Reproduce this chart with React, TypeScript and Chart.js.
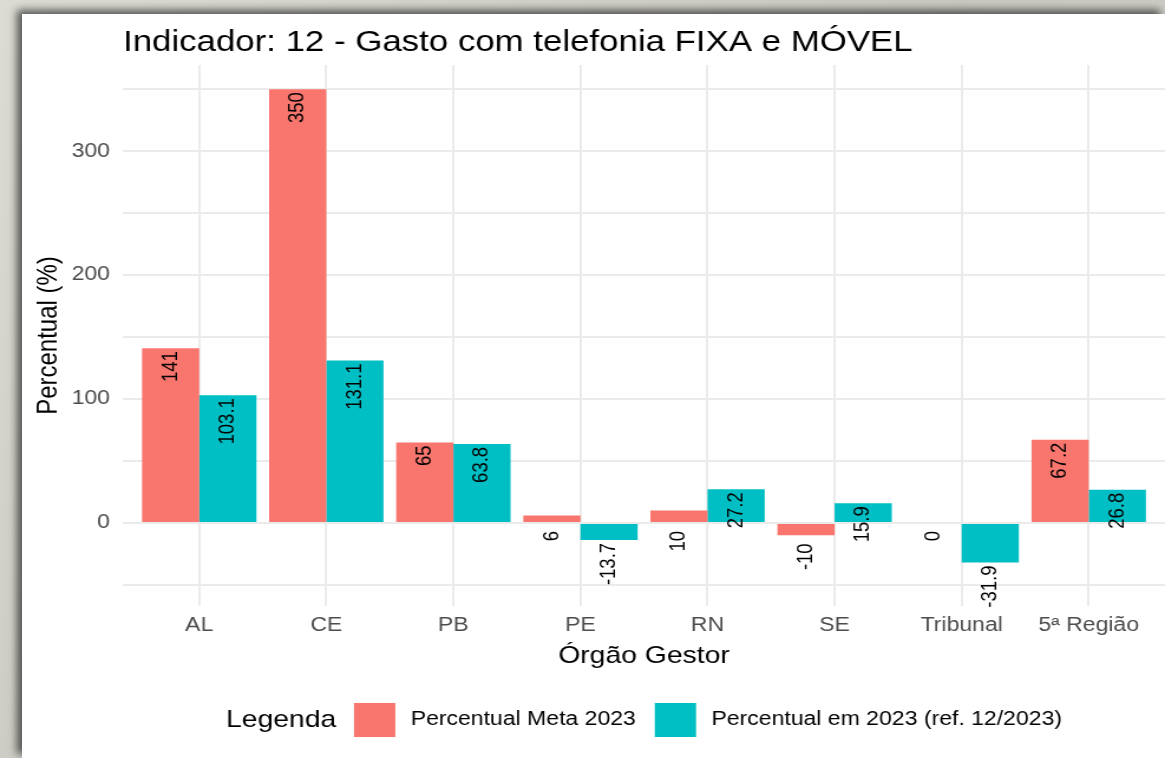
import React, { useEffect, useRef } from 'react';
import { Chart, registerables } from 'chart.js';

Chart.register(...registerables);

// ---- data ----
const categories = ['AL', 'CE', 'PB', 'PE', 'RN', 'SE', 'Tribunal', '5ª Região'];
const metaValues = [141, 350, 65, 6, 10, -10, 0, 67.2];
const realValues = [103.1, 131.1, 63.8, -13.7, 27.2, 15.9, -31.9, 26.8];
const seriesNames = ['Percentual Meta 2023', 'Percentual em 2023 (ref. 12/2023)'];
const seriesColors = ['#F8766D', '#00BFC4'];
const yGridTicks = [-50, 0, 50, 100, 150, 200, 250, 300, 350];
const yLabelTicks = [0, 100, 200, 300];
const titleText = 'Indicador: 12 - Gasto com telefonia FIXA e MÓVEL';
const xTitleText = 'Órgão Gestor';
const yTitleText = 'Percentual (%)';
const legendTitleText = 'Legenda';

// ---- layout ----
const W = 1165;
const H = 758;
const STRETCH = 1.18;
const NW = Math.round(W / STRETCH);
const FONT = '"Liberation Sans", Arial, Helvetica, sans-serif';

const decorPlugin = {
  id: 'decor',
  afterDatasetsDraw(chart: any) {
    const ctx = chart.ctx;
    const base = chart.scales.y.getPixelForValue(0);
    ctx.save();
    ctx.font = `18.5px ${FONT}`;
    ctx.fillStyle = '#000';
    ctx.textAlign = 'right';
    ctx.textBaseline = 'middle';
    chart.data.datasets.forEach((ds: any, di: number) => {
      const meta = chart.getDatasetMeta(di);
      meta.data.forEach((el: any, i: number) => {
        const v = ds.data[i].y;
        let top: number;
        if (di === 0 && Math.abs(v) < 20) top = Math.max(el.y, base) + 8;
        else top = el.y + 3;
        ctx.save();
        ctx.translate(el.x, top);
        ctx.rotate(-Math.PI / 2);
        ctx.fillText(String(v), 0, 0);
        ctx.restore();
      });
    });
    ctx.restore();
  },
  afterDraw(chart: any) {
    const ctx = chart.ctx;
    const area = chart.chartArea;
    const cx = (area.left + area.right) / 2;
    ctx.save();
    ctx.fillStyle = '#000';

    // title
    ctx.font = `29.5px ${FONT}`;
    ctx.textAlign = 'left';
    ctx.textBaseline = 'alphabetic';
    ctx.fillText(titleText, area.left, 50.5);

    // x axis title
    ctx.font = `24px ${FONT}`;
    ctx.textAlign = 'center';
    ctx.fillText(xTitleText, cx, 663);

    // y axis title
    ctx.save();
    ctx.translate(41.5, (area.top + area.bottom) / 2);
    ctx.rotate(-Math.PI / 2);
    ctx.textAlign = 'center';
    ctx.textBaseline = 'middle';
    ctx.fillText(yTitleText, 0, 0);
    ctx.restore();

    // legend
    const ly = 720;
    const box = 35;
    const boxH = 34;
    const g1 = 15;
    const g2 = 13;
    const g3 = 16;
    ctx.font = `24px ${FONT}`;
    const wT = ctx.measureText(legendTitleText).width;
    ctx.font = `19.5px ${FONT}`;
    const ws = chart.data.datasets.map((d: any) => ctx.measureText(d.label).width);
    let total = wT;
    ws.forEach((w: number) => {
      total += g1 + box + g2 + w;
    });
    total += (ws.length - 1) * (g3 - g1);
    let x = cx - total / 2;
    ctx.textAlign = 'left';
    ctx.textBaseline = 'middle';
    ctx.font = `24px ${FONT}`;
    ctx.fillText(legendTitleText, x, ly);
    x += wT + g1;
    chart.data.datasets.forEach((d: any, i: number) => {
      ctx.fillStyle = d.backgroundColor;
      ctx.fillRect(x, ly - boxH / 2, box, boxH);
      x += box + g2;
      ctx.fillStyle = '#000';
      ctx.font = `19.5px ${FONT}`;
      ctx.fillText(d.label, x, ly);
      x += ws[i] + g3;
    });
    ctx.restore();
  },
};

export default function App() {
  const ref = useRef<HTMLCanvasElement>(null);

  useEffect(() => {
    const canvas = ref.current;
    if (!canvas) return;
    Chart.defaults.font.family = FONT;
    const seriesValues = [metaValues, realValues];
    const chart = new Chart(canvas, {
      type: 'bar',
      data: {
        datasets: seriesValues.map((vals, si) => ({
          label: seriesNames[si],
          data: categories.map((_, i) => ({ x: i, y: vals[i] })),
          backgroundColor: seriesColors[si],
          borderWidth: 0,
          categoryPercentage: 0.9,
          barPercentage: 1,
        })),
      },
      options: {
        responsive: false,
        maintainAspectRatio: false,
        devicePixelRatio: 1,
        animation: false,
        layout: { padding: { top: 65, left: 0, right: 0, bottom: 0 } },
        plugins: {
          legend: { display: false },
          tooltip: { enabled: false },
          title: { display: false },
        },
        scales: {
          x: {
            type: 'linear',
            offset: false,
            min: -0.6,
            max: categories.length - 0.4,
            afterBuildTicks: (s: any) => {
              s.ticks = categories.map((_, i) => ({ value: i }));
            },
            afterFit: (s: any) => {
              s.height = 152;
              s.paddingLeft = 0;
              s.paddingRight = 0;
            },
            ticks: {
              autoSkip: false,
              maxRotation: 0,
              padding: 8,
              color: '#4D4D4D',
              font: { size: 19.5 },
              callback: (v: any) => categories[Math.round(Number(v))] ?? '',
            },
            grid: { color: '#EBEBEB', lineWidth: 2, drawTicks: false, offset: false },
            border: { display: false },
          },
          y: {
            type: 'linear',
            min: -67,
            max: 369.5,
            afterBuildTicks: (s: any) => {
              s.ticks = yGridTicks.map((v) => ({ value: v }));
            },
            afterFit: (s: any) => {
              s.width = 104.2;
              s.paddingTop = 0;
              s.paddingBottom = 0;
            },
            ticks: {
              autoSkip: false,
              padding: 11,
              color: '#4D4D4D',
              font: { size: 19.5 },
              callback: (v: any) => (yLabelTicks.includes(Number(v)) ? String(v) : ''),
            },
            grid: { color: '#EBEBEB', lineWidth: 2, drawTicks: false },
            border: { display: false },
          },
        },
      },
      plugins: [decorPlugin],
    } as any);
    return () => chart.destroy();
  }, []);

  return (
    <div
      style={{
        position: 'fixed',
        left: 0,
        top: 0,
        width: W,
        height: H,
        overflow: 'hidden',
        background: 'linear-gradient(135deg, #dcdbd4 0%, #c9c8c1 50%, #d6d5ce 100%)',
      }}
    >
      <div
        style={{
          position: 'absolute',
          left: 22,
          top: 14,
          right: 0,
          bottom: 0,
          background: '#ffffff',
          boxShadow: '-5px -4px 8px rgba(40,40,40,0.75)',
        }}
      />
      <canvas
        ref={ref}
        width={NW}
        height={H}
        style={{ position: 'absolute', left: 0, top: 0, width: W + 'px', height: H + 'px' }}
      />
    </div>
  );
}
